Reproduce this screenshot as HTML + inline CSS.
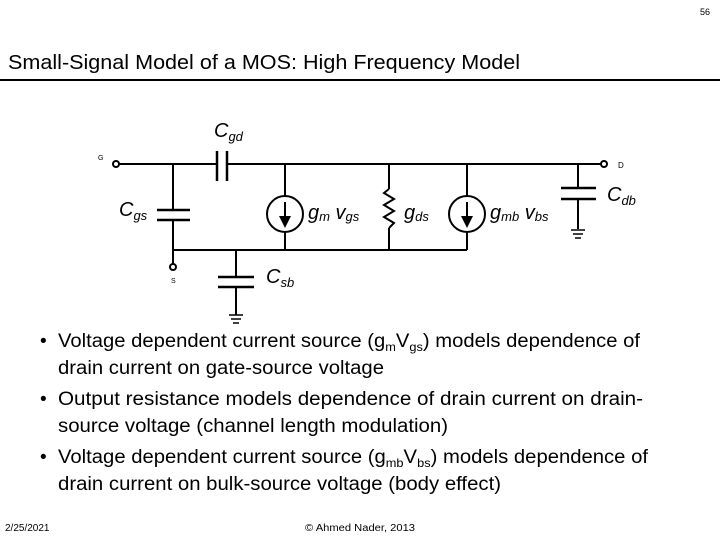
<!DOCTYPE html>
<html><head><meta charset="utf-8"><style>
html,body{margin:0;padding:0;background:#fff;}
svg{display:block;}
text{font-family:"Liberation Sans",sans-serif;fill:#000;}
.it{font-style:italic;font-size:20px;}
.b{font-size:19px;}
</style></head><body>
<svg width="720" height="540" viewBox="0 0 720 540" xmlns="http://www.w3.org/2000/svg">
<text x="700" y="15" font-size="9" fill="#444">56</text>
<text x="8" y="69" font-size="20" textLength="512" lengthAdjust="spacingAndGlyphs">Small-Signal Model of a MOS: High Frequency Model</text>
<line x1="0" y1="80" x2="720" y2="80" stroke="#000" stroke-width="2"/>

<g stroke="#000" stroke-width="2" fill="none">
<!-- top wire -->
<line x1="119" y1="164" x2="217" y2="164"/>
<line x1="227" y1="164" x2="601" y2="164"/>
<circle cx="116" cy="164" r="3"/>
<circle cx="604" cy="164" r="3"/>
<!-- Cgd -->
<line x1="217" y1="151" x2="217" y2="181" stroke-width="2.5"/>
<line x1="227" y1="151" x2="227" y2="181" stroke-width="2.5"/>
<!-- Cgs -->
<line x1="173" y1="164" x2="173" y2="210"/>
<line x1="157" y1="210" x2="190" y2="210" stroke-width="2.5"/>
<line x1="157" y1="220" x2="190" y2="220" stroke-width="2.5"/>
<line x1="173" y1="220" x2="173" y2="264"/>
<circle cx="173" cy="267" r="3"/>
<!-- bottom wire -->
<line x1="173" y1="250" x2="467" y2="250"/>
<!-- CS1 -->
<line x1="285" y1="164" x2="285" y2="196"/>
<circle cx="285" cy="214" r="18"/>
<line x1="285" y1="232" x2="285" y2="250"/>
<line x1="285" y1="202" x2="285" y2="218"/>
<!-- resistor -->
<line x1="389" y1="164" x2="389" y2="189"/>
<polyline points="389,189 384,193 394,199 384,205 394,211 384,217 394,223 389,228"/>
<line x1="389" y1="228" x2="389" y2="250"/>
<!-- CS2 -->
<line x1="467" y1="164" x2="467" y2="196"/>
<circle cx="467" cy="214" r="18"/>
<line x1="467" y1="232" x2="467" y2="250"/>
<line x1="467" y1="202" x2="467" y2="218"/>
<!-- Cdb -->
<line x1="578" y1="164" x2="578" y2="188"/>
<line x1="561" y1="188" x2="596" y2="188" stroke-width="2.5"/>
<line x1="561" y1="199" x2="596" y2="199" stroke-width="2.5"/>
<line x1="578" y1="199" x2="578" y2="229"/>
<line x1="571" y1="230" x2="585" y2="230" stroke-width="1.5"/>
<line x1="573" y1="234" x2="583" y2="234" stroke-width="1.5"/>
<line x1="575" y1="238" x2="581" y2="238" stroke-width="1.5"/>
<!-- Csb -->
<line x1="236" y1="250" x2="236" y2="277"/>
<line x1="218" y1="277" x2="254" y2="277" stroke-width="2.5"/>
<line x1="218" y1="287" x2="254" y2="287" stroke-width="2.5"/>
<line x1="236" y1="287" x2="236" y2="315"/>
<line x1="229" y1="315" x2="243" y2="315" stroke-width="1.5"/>
<line x1="231" y1="319" x2="241" y2="319" stroke-width="1.5"/>
<line x1="233" y1="323" x2="239" y2="323" stroke-width="1.5"/>
</g>
<polygon points="279,216 291,216 285,228" fill="#000"/>
<polygon points="461,216 473,216 467,228" fill="#000"/>

<text x="98" y="160" font-size="7">G</text>
<text x="618" y="168" font-size="8">D</text>
<text x="171" y="283" font-size="7">S</text>

<text class="it" x="214" y="137">C<tspan font-size="13" dy="4">gd</tspan></text>
<text class="it" x="119" y="216">C<tspan font-size="13" dy="4">gs</tspan></text>
<text class="it" x="308" y="219">g<tspan font-size="13" dy="2">m</tspan><tspan dy="-2"> v</tspan><tspan font-size="13" dy="2">gs</tspan></text>
<text class="it" x="404" y="219">g<tspan font-size="13" dy="2">ds</tspan></text>
<text class="it" x="490" y="219">g<tspan font-size="13" dy="2">mb</tspan><tspan dy="-2"> v</tspan><tspan font-size="13" dy="2">bs</tspan></text>
<text class="it" x="607" y="201">C<tspan font-size="13" dy="4">db</tspan></text>
<text class="it" x="266" y="283">C<tspan font-size="13" dy="4">sb</tspan></text>

<g class="b">
<text x="40" y="347" font-size="19">•</text>
<text x="58" y="347" font-size="19" textLength="582" lengthAdjust="spacingAndGlyphs">Voltage dependent current source (g<tspan font-size="12" dy="4">m</tspan><tspan dy="-4">V</tspan><tspan font-size="12" dy="4">gs</tspan><tspan dy="-4">) models dependence of</tspan></text>
<text x="58" y="374" font-size="19" textLength="326" lengthAdjust="spacingAndGlyphs">drain current on gate-source voltage</text>
<text x="40" y="405" font-size="19">•</text>
<text x="58" y="405" font-size="19" textLength="585" lengthAdjust="spacingAndGlyphs">Output  resistance  models dependence of drain current on drain-</text>
<text x="58" y="432" font-size="19" textLength="390" lengthAdjust="spacingAndGlyphs">source voltage (channel length modulation)</text>
<text x="40" y="463" font-size="19">•</text>
<text x="58" y="463" font-size="19" textLength="590" lengthAdjust="spacingAndGlyphs">Voltage dependent current source (g<tspan font-size="12" dy="4">mb</tspan><tspan dy="-4">V</tspan><tspan font-size="12" dy="4">bs</tspan><tspan dy="-4">) models dependence of</tspan></text>
<text x="58" y="490" font-size="19" textLength="443" lengthAdjust="spacingAndGlyphs">drain current on bulk-source voltage (body effect)</text>
</g>
<text x="5" y="531" font-size="10" fill="#555">2/25/2021</text>
<text x="305" y="531" font-size="10" fill="#555" textLength="110" lengthAdjust="spacingAndGlyphs">© Ahmed Nader, 2013</text>
</svg>
</body></html>
